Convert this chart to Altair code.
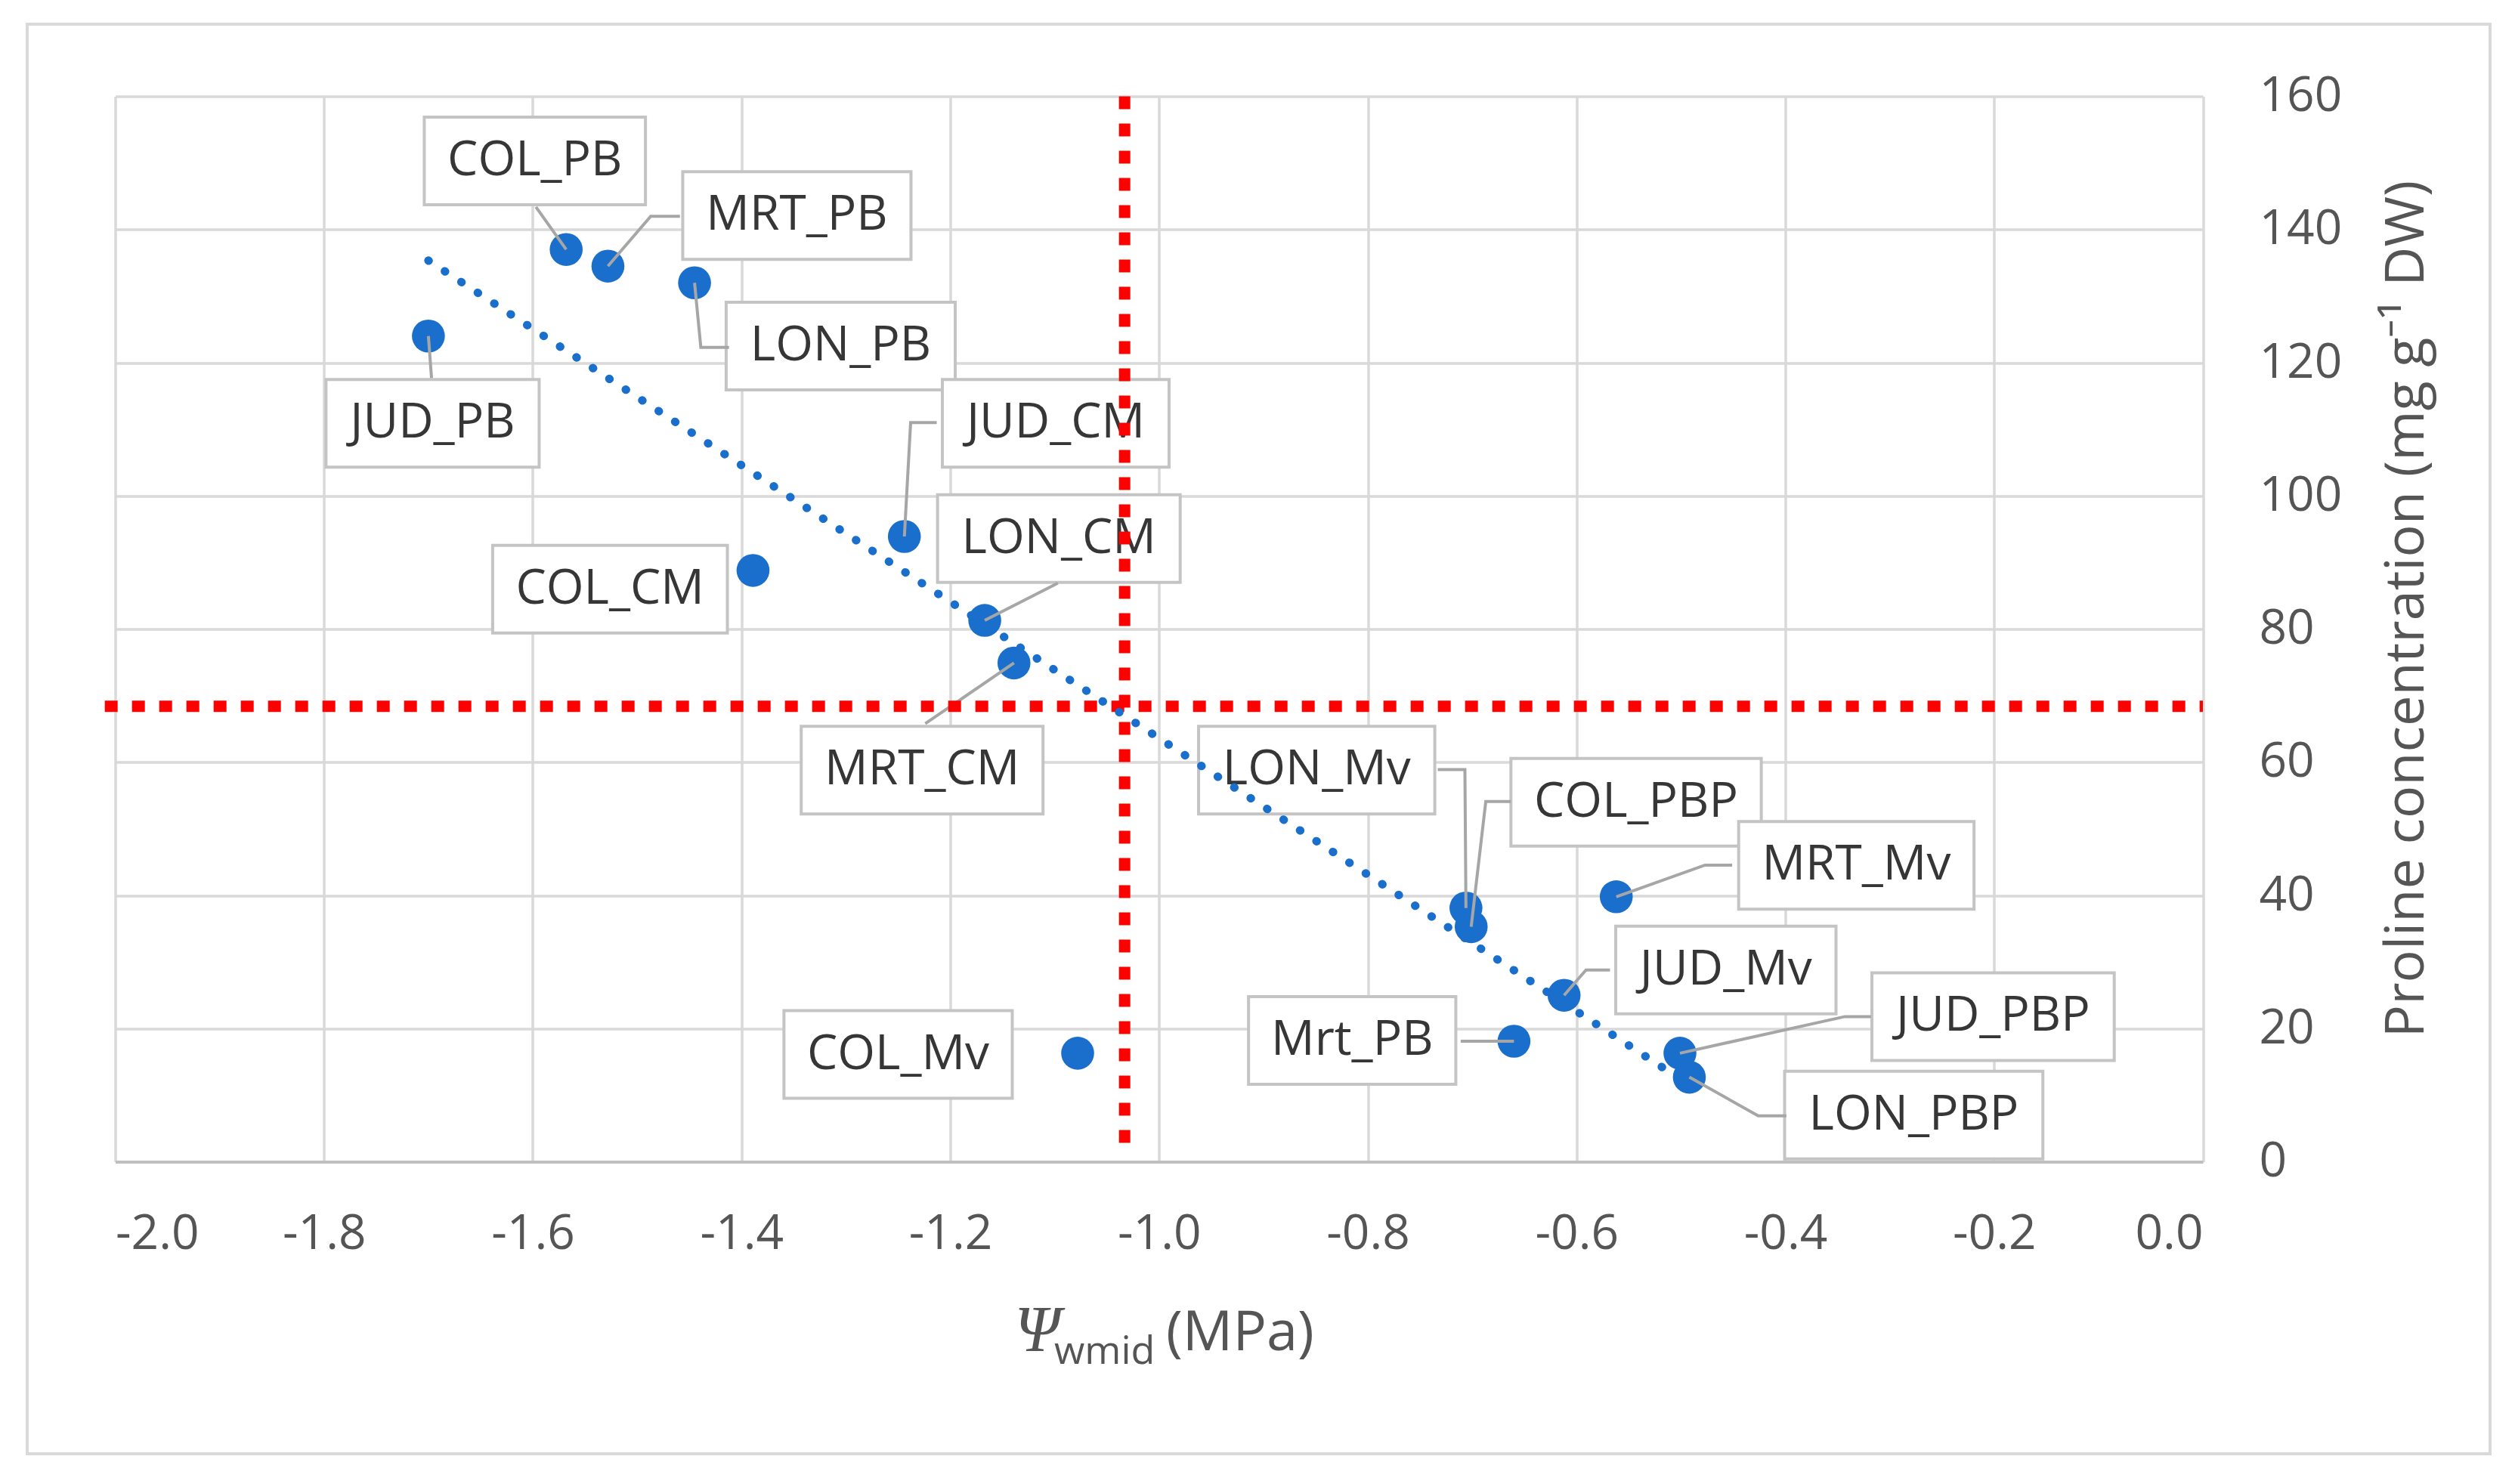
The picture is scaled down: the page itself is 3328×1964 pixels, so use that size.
import pandas as pd
import altair as alt

# Punkter: vannpotensial (MPa) og prolinkonsentrasjon
labels = ['COL_PB', 'MRT_PB', 'LON_PB', 'JUD_PB', 'COL_CM', 'JUD_CM', 'LON_CM', 'MRT_CM',
          'COL_Mv', 'LON_Mv', 'COL_PBP', 'MRT_Mv', 'JUD_Mv', 'Mrt_PB', 'JUD_PBP', 'LON_PBP']
psi = [-1.568, -1.528, -1.445, -1.700, -1.389, -1.244, -1.167, -1.139,
       -1.078, -0.706, -0.701, -0.562, -0.612, -0.660, -0.501, -0.492]
proline = [137.0, 134.5, 132.0, 124.0, 88.8, 93.9, 81.3, 74.9,
           16.3, 38.1, 35.3, 39.8, 25.0, 18.1, 16.3, 12.7]

# Plassering av etikettboksene (sentrum, i dataenheter)
label_x = [-1.598, -1.347, -1.305, -1.696, -1.526, -1.099, -1.096, -1.227,
           -1.250, -0.849, -0.543, -0.332, -0.457, -0.815, -0.201, -0.277]
label_y = [150.3, 142.1, 122.5, 110.9, 86.0, 110.9, 93.6, 58.8,
           16.1, 58.8, 54.0, 44.5, 28.8, 18.2, 21.8, 7.0]

# Knekkpunkter for ledelinjene (fra punktet til boksen)
leaders = {
    'COL_PB': [(-1.597, 143.4)],
    'MRT_PB': [(-1.487, 142.0), (-1.459, 142.0)],
    'LON_PB': [(-1.439, 122.3), (-1.412, 122.3)],
    'JUD_PB': [(-1.697, 117.7)],
    'JUD_CM': [(-1.238, 111.0), (-1.213, 111.0)],
    'LON_CM': [(-1.097, 86.9)],
    'MRT_CM': [(-1.224, 65.8)],
    'LON_Mv': [(-0.707, 58.9), (-0.733, 58.9)],
    'COL_PBP': [(-0.687, 54.1), (-0.663, 54.1)],
    'MRT_Mv': [(-0.477, 44.55), (-0.451, 44.55)],
    'JUD_Mv': [(-0.591, 28.8), (-0.568, 28.8)],
    'Mrt_PB': [(-0.711, 18.1)],
    'JUD_PBP': [(-0.343, 21.8), (-0.318, 21.8)],
    'LON_PBP': [(-0.426, 6.9), (-0.399, 6.9)],
}

# Gjennomsnittslinjer (røde)
mean_psi = -1.033
mean_proline = 68.4

x_ticks = [-2.0, -1.8, -1.6, -1.4, -1.2, -1.0, -0.8, -0.6, -0.4, -0.2, 0.0]
y_ticks = [0, 20, 40, 60, 80, 100, 120, 140, 160]

BLUE = '#1a6ecc'
W, H = 2762.5, 1410
px_per_x = W / 2.0
px_per_y = H / 160.0

# omtrentlige tegnbredder (Open Sans, em) for å tilpasse boksene
glyph = {'C': 0.632, 'O': 0.779, 'L': 0.519, '_': 0.451, 'P': 0.603, 'B': 0.652, 'M': 0.903,
         'R': 0.617, 'T': 0.556, 'J': 0.27, 'U': 0.757, 'D': 0.737, 'N': 0.795, 'v': 0.499,
         'r': 0.408, 't': 0.331}

pts = pd.DataFrame({'label': labels, 'psi': psi, 'proline': proline})

box_rows = []
for lab, lx, ly in zip(labels, label_x, label_y):
    tw = sum(glyph.get(c, 0.6) for c in lab) * 64
    hw = (tw / 2 + 30) / px_per_x
    hh = 58 / px_per_y
    box_rows.append({'label': lab, 'lx': lx, 'ly': ly,
                     'bx1': lx - hw, 'bx2': lx + hw, 'by1': ly - hh, 'by2': ly + hh})
boxes = pd.DataFrame(box_rows)

lead_rows = []
for lab, px, py in zip(labels, psi, proline):
    if lab not in leaders:
        continue
    lead_rows.append({'label': lab, 'seq': 0, 'lxp': px, 'lyp': py})
    for i, (ex, ey) in enumerate(leaders[lab]):
        lead_rows.append({'label': lab, 'seq': i + 1, 'lxp': ex, 'lyp': ey})
lead = pd.DataFrame(lead_rows)

rules = pd.DataFrame({'x1': [mean_psi, -2.01], 'x2': [mean_psi, 0.0],
                      'y1': [160.0, mean_proline], 'y2': [0.8, mean_proline]})

xs = alt.Scale(domain=[-2.0, 0.0], nice=False, zero=False)
ys = alt.Scale(domain=[0, 160], nice=False)

xaxis = alt.Axis(values=x_ticks, title=None, grid=True, ticks=False,
                 labelExpr="datum.value < 0 ? '-' + format(-datum.value, '.1f') : format(datum.value, '.1f')",
                 labelFont='Open Sans', labelFontSize=64, labelColor='#555555', labelPadding=64,
                 gridColor='#d9d9d9', gridWidth=3.5, domainColor='#bfbfbf', domainWidth=4)
yaxis = alt.Axis(values=y_ticks, title=None, orient='right', grid=True, ticks=False, domain=False,
                 labelFont='Open Sans', labelFontSize=64, labelColor='#555555', labelPadding=74,
                 labelAlign='left', gridColor='#d9d9d9', gridWidth=3.5)

one = pd.DataFrame({'a': [0]})

frame = alt.Chart(one).mark_rect(fill='transparent', stroke='#d9d9d9', strokeWidth=4).encode(
    x=alt.value(-116.5), x2=alt.value(3142.5), y=alt.value(-95.5), y2=alt.value(1796.5)
)

box_layer = alt.Chart(boxes).mark_rect(fill='white', stroke='#c4c4c4', strokeWidth=4).encode(
    x=alt.X('bx1:Q', scale=xs, axis=xaxis), x2='bx2',
    y=alt.Y('by1:Q', scale=ys, axis=yaxis), y2='by2'
)

box_text = alt.Chart(boxes).mark_text(font='Open Sans', fontSize=64, color='#363636',
                                      align='center', baseline='middle').encode(
    x=alt.X('lx:Q', scale=xs, axis=xaxis),
    y=alt.Y('ly:Q', scale=ys, axis=yaxis),
    text='label:N'
)

points = alt.Chart(pts).mark_circle(color=BLUE, size=1900, opacity=1).encode(
    x=alt.X('psi:Q', scale=xs, axis=xaxis),
    y=alt.Y('proline:Q', scale=ys, axis=yaxis)
)

leader_lines = alt.Chart(lead).mark_line(color='#a6a6a6', strokeWidth=4).encode(
    x=alt.X('lxp:Q', scale=xs, axis=xaxis),
    y=alt.Y('lyp:Q', scale=ys, axis=yaxis),
    detail='label:N',
    order='seq:Q'
)

red_lines = alt.Chart(rules).mark_rule(color='#ff0000', strokeWidth=15, strokeDash=[17, 19]).encode(
    x=alt.X('x1:Q', scale=xs, axis=xaxis), x2='x2',
    y=alt.Y('y1:Q', scale=ys, axis=yaxis), y2='y2'
)

trend = alt.Chart(pts).transform_regression('psi', 'proline').mark_line(
    color=BLUE, strokeWidth=11, strokeDash=[0.5, 25.5], strokeCap='round'
).encode(
    x=alt.X('psi:Q', scale=xs, axis=xaxis),
    y=alt.Y('proline:Q', scale=ys, axis=yaxis)
)

# aksetitler
psi_sym = alt.Chart(one).mark_text(text='Ψ', font='Liberation Serif', fontStyle='italic',
                                   fontSize=86, color='#555555', align='left',
                                   baseline='alphabetic').encode(
    x=alt.value(1190), y=alt.value(1660.5))
psi_sub = alt.Chart(one).mark_text(text='wmid', font='Open Sans', fontSize=52, color='#555555',
                                   align='left', baseline='alphabetic').encode(
    x=alt.value(1242.5), y=alt.value(1677.5))
psi_unit = alt.Chart(one).mark_text(text='(MPa)', font='Open Sans', fontSize=74, color='#555555',
                                    align='left', baseline='alphabetic').encode(
    x=alt.value(1390.5), y=alt.value(1659.5))
y_title = alt.Chart(one).mark_text(text='Proline concentration (mg g⁻¹ DW)', font='Open Sans',
                                   fontSize=72, color='#555555', angle=270, align='center',
                                   baseline='alphabetic').encode(
    x=alt.value(3054.5), y=alt.value(678.5))

chart = alt.layer(
    frame, box_layer, box_text, points, leader_lines, red_lines, trend,
    psi_sym, psi_sub, psi_unit, y_title
).properties(
    width=W, height=H,
    autosize=alt.AutoSizeParams(type='none'),
    padding={'left': 144.5, 'top': 119.5, 'right': 390, 'bottom': 400},
    background='white'
).configure_view(stroke=None)

chart.save('out.html', embed_options={'renderer': 'svg', 'actions': False})
